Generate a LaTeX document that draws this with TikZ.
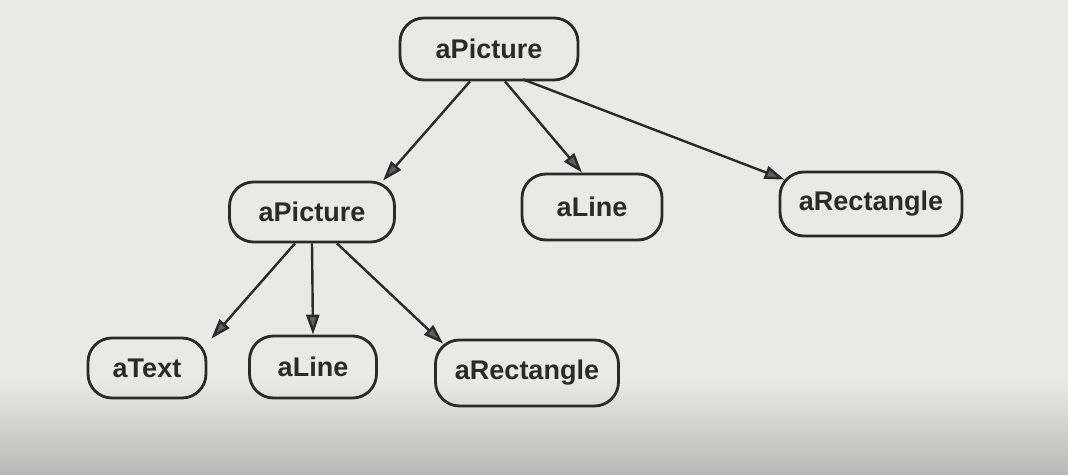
\documentclass[tikz,border=0pt]{standalone}
\usepackage{fontspec}
\setmainfont{Liberation Sans}
\usetikzlibrary{arrows.meta}
\definecolor{paper}{HTML}{E9E9E7}
\definecolor{ink}{HTML}{2A2A2A}
\tikzset{
  obj/.style={draw=ink, line width=2.8pt, rounded corners=24pt, inner sep=0pt,
    font=\fontsize{27}{30}\selectfont\bfseries, text=ink},
  link/.style={draw=ink, line width=2.4pt, -{Triangle[length=20pt,width=13pt,fill=ink!75]}},
}
\begin{document}
\begin{tikzpicture}[x=1pt,y=-1pt]
\fill[paper] (0,0) rectangle (1068,474);
\shade[top color=paper, bottom color=gray!55] (0,380) rectangle (1068,474);
\useasboundingbox (0,0) rectangle (1068,474);
\node[obj, minimum width=178pt, minimum height=62pt] (tp) at (489,49) {aPicture};
\node[obj, minimum width=165pt, minimum height=60pt] (mp) at (312,212) {aPicture};
\node[obj, minimum width=140pt, minimum height=66pt] (ml) at (592,207) {aLine};
\node[obj, minimum width=182pt, minimum height=64pt] (mr) at (871,204) {aRectangle};
\node[obj, minimum width=118pt, minimum height=60pt] (bt) at (147,368) {aText};
\node[obj, minimum width=127pt, minimum height=62pt] (bl) at (313,367) {aLine};
\node[obj, minimum width=183pt, minimum height=66pt] (br) at (527,373) {aRectangle};
\draw[link] ([xshift=-19pt]tp.south) -- ([xshift=71pt]mp.north);
\draw[link] ([xshift=16pt]tp.south) -- ([xshift=-10pt]ml.north);
\draw[link] ([xshift=34pt,yshift=2pt]tp.south) -- ([xshift=6pt,yshift=-9pt]mr.north west);
\draw[link] ([xshift=-17pt]mp.south) -- ([xshift=4pt,yshift=-2pt]bt.north east);
\draw[link] (mp.south) -- (bl.north);
\draw[link] ([xshift=25pt]mp.south) -- ([xshift=9pt,yshift=-5pt]br.north west);
\end{tikzpicture}
\end{document}
